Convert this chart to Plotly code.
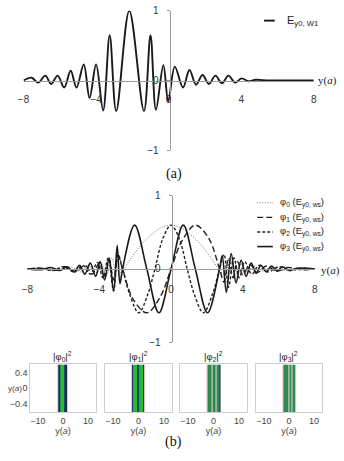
import plotly.graph_objects as go

# ---------------- data ----------------
# (a) top panel: E_y0,W1 versus y(a) (extrema)
y_top = [-8.0, -7.55, -7.19, -6.80, -6.48, -6.12, -5.76, -5.40, -5.08, -4.68, -4.36, -4.0,
         -3.61, -3.25, -2.89, -2.17, -1.36, -1.0, -0.70, -0.29, -0.02, 0.34, 0.79, 1.15,
         1.51, 1.87, 2.22, 2.58, 2.94, 3.30, 3.66, 4.02, 4.4, 4.8, 5.5, 6.5, 8.0]
E_w1 = [0.0, 0.04, -0.03, 0.07, -0.05, 0.07, -0.10, 0.14, -0.10, 0.23, -0.25, 0.23,
        -0.43, 0.65, -0.44, 1.0, -0.44, 0.65, -0.42, 0.22, -0.30, 0.20, -0.10, 0.15,
        -0.06, 0.08, -0.05, 0.07, -0.04, 0.07, -0.03, 0.03, -0.01, 0.01, 0.0, 0.0, 0.0]

# (b) middle panel: modes phi0..phi3
y_phi0 = [-8, -7, -6.2, -5.6, -5.0, -4.6, -4.2, -3.9, -3.6, -3.3, -3.0, -2.65, -2.2, -1.6, -1.0, -0.5, 0,
          0.5, 1.0, 1.6, 2.2, 2.65, 3.0, 3.3, 3.6, 3.9, 4.2, 4.6, 5.0, 5.6, 6.2, 7, 8]
phi0 = [0, 0.01, -0.02, 0.03, -0.04, 0.05, -0.06, 0.08, -0.09, 0.15, -0.08, 0.0, 0.16, 0.35, 0.49, 0.57, 0.6,
        0.57, 0.49, 0.35, 0.16, 0.0, -0.08, 0.12, -0.08, 0.07, -0.05, 0.04, -0.03, 0.02, -0.02, 0.01, 0]

y_phi1 = [-8, -7.2, -6.5, -5.9, -5.3, -4.8, -4.4, -4.0, -3.7, -3.45, -3.2, -2.95, -2.7, -2.1, -1.35, -0.6, 0,
          0.6, 1.35, 2.1, 2.7, 2.95, 3.2, 3.45, 3.7, 4.0, 4.4, 4.8, 5.3, 5.9, 6.5, 7.2, 8]
phi1 = [0, 0.01, -0.02, 0.03, -0.04, 0.05, -0.07, 0.08, -0.10, 0.12, -0.15, 0.18, 0.0, -0.42, -0.6, -0.38, 0.0,
        0.38, 0.6, 0.42, 0.0, -0.18, 0.15, -0.12, 0.10, -0.08, 0.06, -0.05, 0.04, -0.03, 0.02, -0.01, 0]

y_phi2 = [-8, -7.3, -6.6, -6.0, -5.4, -4.9, -4.5, -4.1, -3.8, -3.5, -3.2, -2.95, -2.7, -2.3, -1.8, -1.3, -0.9,
          -0.45, 0, 0.45, 0.9, 1.3, 1.8, 2.3, 2.7, 2.95, 3.2, 3.5, 3.8, 4.1, 4.5, 4.9, 5.4, 6.0, 6.6, 7.3, 8]
phi2 = [0, 0.01, -0.02, 0.03, -0.04, 0.05, -0.07, 0.09, -0.12, 0.15, -0.30, 0.20, 0.0, -0.35, -0.6, -0.35, 0.0,
        0.42, 0.6, 0.42, 0.0, -0.35, -0.6, -0.35, 0.0, 0.20, -0.25, 0.15, -0.12, 0.10, -0.07, 0.05, -0.04, 0.03, -0.02, 0.01, 0]

y_phi3 = [-8, -7.2, -6.7, -6.2, -5.8, -5.4, -5.1, -4.8, -4.5, -4.2, -3.95, -3.7, -3.45, -3.2, -3.0, -2.85, -2.7,
          -2.03, -1.35, -0.68, 0, 0.68, 1.35, 2.03, 2.7, 2.85, 3.08, 3.35, 3.62, 3.9, 4.18, 4.46, 4.74, 5.0,
          5.3, 5.6, 5.9, 6.2, 6.6, 7.0, 8]
phi3 = [0, -0.01, 0.02, -0.02, 0.03, -0.04, 0.05, -0.07, 0.08, -0.10, 0.10, -0.15, 0.15, -0.30, 0.32, -0.20, 0.0,
        0.6, 0.0, -0.6, 0.0, 0.6, 0.0, -0.6, 0.0, 0.18, -0.32, 0.21, -0.19, 0.12, -0.10, 0.08, -0.06, 0.05,
        -0.04, 0.04, -0.03, 0.03, -0.02, 0.01, 0]

# (b) bottom: |phi_n|^2 intensity bands (band edges along y(a), intensity per band)
band_edges = [
    [-2.3, -2.0, -1.1, 0.6, 1.5, 1.8],
    [-2.9, -2.6, -2.2, -0.7, 0.1, 1.8, 2.2, 2.5],
    [-2.7, -2.45, -2.2, -0.85, -0.5, 0.75, 1.1, 2.45, 2.7],
    [-2.6, -2.2, -1.1, -0.85, -0.05, 0.2, 1.1, 1.35, 2.4, 2.65],
]
band_int = [
    [0.06, 0.18, 1.0, 0.18, 0.06],
    [0.06, 0.18, 0.95, 0.25, 0.95, 0.18, 0.06],
    [0.06, 0.18, 0.5, 0.04, 0.5, 0.04, 0.5, 0.18],
    [0.06, 0.5, 0.04, 0.5, 0.04, 0.5, 0.04, 0.5, 0.18],
]
PHI = "φ"
panel_titles = [f"|{PHI}<sub>{k}</sub>|<sup>2</sup>" for k in range(4)]
x_ticks = [-8, -4, 0, 4, 8]
top_name = "E<sub>y0, W1</sub>"
mode_names = [f"{PHI}<sub>{k}</sub> (E<sub>y0, ws</sub>)" for k in range(4)]

# ---------------- figure ----------------
W, H = 344, 461
def fx(px): return px / W
def fy(py): return 1 - py / H

AX = "#9a9a9a"
TXT = "#222222"
SANS = "Liberation Sans, Arial, sans-serif"
SERIF = "Liberation Serif, Times New Roman, serif"

fig = go.Figure()
top_line = dict(color="#1a1a1a", width=1.9)
fig.add_trace(go.Scatter(x=y_top, y=E_w1, mode="lines", name=top_name, showlegend=False,
                         line=dict(top_line, shape="spline", smoothing=1),
                         xaxis="x", yaxis="y"))

mode_lines = [
    dict(color="#777777", width=1, dash="1px,1.5px"),
    dict(color="#222222", width=1.4, dash="6px,3px"),
    dict(color="#222222", width=1.4, dash="3px,2px"),
    dict(color="#1a1a1a", width=1.6),
]
mid = [(y_phi0, phi0), (y_phi1, phi1), (y_phi2, phi2), (y_phi3, phi3)]
for (xs, ys), nm, ln in zip(mid, mode_names, mode_lines):
    fig.add_trace(go.Scatter(x=xs, y=ys, mode="lines", name=nm, showlegend=False,
                             line=dict(ln, shape="spline", smoothing=1),
                             xaxis="x2", yaxis="y2"))

cscale = [[0, "#ffffff"], [0.06, "#f2c2ca"], [0.18, "#1c2768"], [0.5, "#2e8a4e"], [1.0, "#24bf2c"]]
for i in range(4):
    fig.add_trace(go.Heatmap(x=band_edges[i], y=[-0.6, 0.6], z=[band_int[i]], zmin=0, zmax=1,
                             colorscale=cscale, showscale=False, hoverinfo="skip",
                             xaxis=f"x{i+3}", yaxis=f"y{i+3}"))

top_dom = [fy(148), fy(5)]
mid_dom = [fy(345), fy(195)]
lay = dict(
    width=W, height=H, margin=dict(l=0, r=0, t=0, b=0), showlegend=False,
    paper_bgcolor="white", plot_bgcolor="rgba(0,0,0,0)",
    font=dict(family=SANS, size=10, color=TXT),
    xaxis=dict(domain=[fx(18), fx(316)], range=[-8, 8], anchor="free",
               position=(top_dom[0] + top_dom[1]) / 2, tickvals=x_ticks,
               showline=True, linecolor=AX, linewidth=1, ticks="", showgrid=False,
               zeroline=False, ticklabelstandoff=9, tickfont=dict(size=10, color="#333")),
    yaxis=dict(domain=top_dom, range=[-1, 1], anchor="free", position=fx(168),
               tickvals=[-1, 0, 1], showline=True, linecolor=AX, ticks="outside", ticklen=3,
               tickcolor=AX, showgrid=False, zeroline=False, ticklabelstandoff=6,
               tickfont=dict(size=10, color="#333")),
    xaxis2=dict(domain=[fx(22), fx(317)], range=[-8, 8], anchor="free",
                position=(mid_dom[0] + mid_dom[1]) / 2, tickvals=x_ticks,
                showline=True, linecolor=AX, linewidth=1, ticks="", showgrid=False,
                zeroline=False, ticklabelstandoff=11, tickfont=dict(size=10, color="#333")),
    yaxis2=dict(domain=mid_dom, range=[-1, 1], anchor="free", position=fx(170),
                tickvals=[-1, 0, 1], showline=True, linecolor=AX, ticks="outside", ticklen=3,
                tickcolor=AX, showgrid=False, zeroline=False, ticklabelstandoff=6,
                tickfont=dict(size=10, color="#333")),
)

panels = [(25, 92), (102, 170), (179, 247), (257, 324)]
bot_dom = [fy(417), fy(368)]
for i, (a, b) in enumerate(panels):
    n = i + 3
    lay[f"xaxis{n}"] = dict(domain=[fx(a), fx(b)], range=[-13, 13], anchor=f"y{n}",
                            tickvals=[-10, 0, 10], showline=True, mirror=True, linecolor="#cfcfcf",
                            ticks="", showgrid=False, zeroline=False,
                            tickfont=dict(size=9, color="#444"),
                            title=dict(text="y(<i>a</i>)", font=dict(size=9, color="#444"), standoff=0))
    lay[f"yaxis{n}"] = dict(domain=bot_dom, range=[-0.6, 0.6], anchor=f"x{n}",
                            tickvals=[-0.4, 0, 0.4], showticklabels=(i == 0), showline=True,
                            mirror=True, linecolor="#cfcfcf", ticks="", showgrid=False,
                            zeroline=False, tickfont=dict(size=9, color="#444"))
fig.update_layout(**lay)

# hand-made legends (short line samples like the reference)
shapes = [dict(type="line", xref="paper", yref="paper", x0=fx(265), x1=fx(276),
               y0=fy(15), y1=fy(15), line=top_line)]
ann = [dict(x=fx(287), y=fy(15), text=top_name, xanchor="left", font=dict(size=11, color=TXT))]
for k, (nm, ln) in enumerate(zip(mode_names, mode_lines)):
    yy = fy(202 + 15 * k)
    shapes.append(dict(type="line", xref="paper", yref="paper", x0=fx(258), x1=fx(274),
                       y0=yy, y1=yy, line=ln))
    ann.append(dict(x=fx(279), y=yy, text=nm, xanchor="left", font=dict(size=9.5, color=TXT)))
fig.update_layout(shapes=shapes)

ann += [
    dict(x=fx(173), y=fy(173), text="(a)", font=dict(family=SERIF, size=14, color="#111")),
    dict(x=fx(172), y=fy(448), text="(b)", font=dict(family=SERIF, size=14, color="#111")),
    dict(x=fx(330), y=fy(77), text="y(<i>a</i>)", font=dict(family=SERIF, size=11, color=TXT)),
    dict(x=fx(333), y=fy(272), text="y(<i>a</i>)", font=dict(family=SERIF, size=11, color=TXT)),
    dict(x=fx(0.5), y=fy(393), text="y(<i>a</i>)", xanchor="left", font=dict(size=8, color="#444")),
]
for i, (a, b) in enumerate(panels):
    ann.append(dict(x=fx((a + b) / 2), y=fy(360), text=panel_titles[i],
                    font=dict(size=9.5, color="#222")))
for a_ in ann:
    a_.setdefault("xanchor", "center")
    fig.add_annotation(xref="paper", yref="paper", showarrow=False, yanchor="middle", **a_)

fig.write_html("out.html")
